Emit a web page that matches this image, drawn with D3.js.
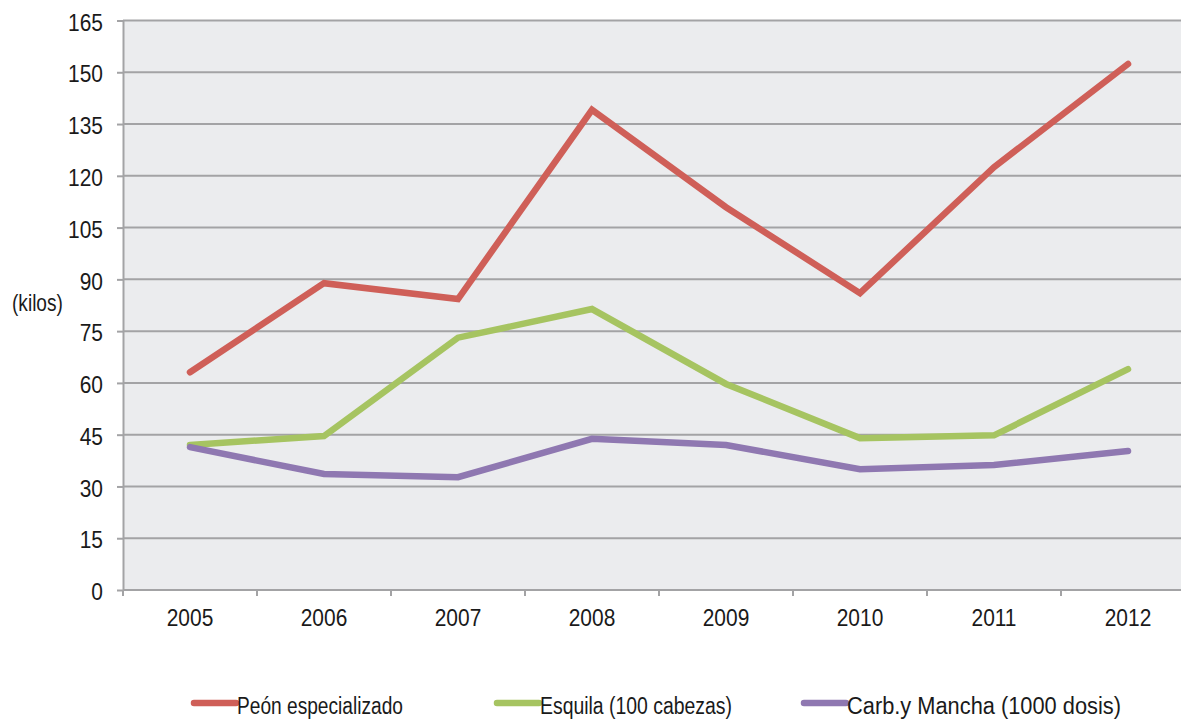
<!DOCTYPE html>
<html>
<head>
<meta charset="utf-8">
<script src="https://cdn.jsdelivr.net/npm/d3@7"></script>
<style>
  html, body { margin: 0; padding: 0; background: #ffffff; }
  svg { display: block; }
  text { font-family: "Liberation Sans", Arial, sans-serif; fill: #1a1a1a; }
</style>
</head>
<body>
<svg id="chart" width="1181" height="720"></svg>
<script>
// Years on the horizontal axis
const years = ["2005", "2006", "2007", "2008", "2009", "2010", "2011", "2012"];

// Kilos per concept
const peon    = [63.1, 88.9, 84.3, 139.1, 110.9, 86.0, 122.5, 152.4];
const esquila = [42.0, 44.6, 73.1, 81.4, 59.7, 44.0, 44.8, 64.0];
const carb    = [41.4, 33.6, 32.7, 43.8, 42.0, 35.0, 36.2, 40.3];

const yTicks = [0, 15, 30, 45, 60, 75, 90, 105, 120, 135, 150, 165];

const seriesNames  = ["Peón especializado", "Esquila (100 cabezas)", "Carb.y Mancha (1000 dosis)"];
const seriesValues = [peon, esquila, carb];
const seriesColors = ["#cf5f58", "#a6c461", "#8f78b1"];

const FONT = 23;
const TICK_SX = 0.91;   // condensed look for numbers
const TEXT_SX = 0.83;   // condensed look for words

const svg = d3.select("#chart");
const plot = { left: 123, right: 1195, top: 20.5, bottom: 590 };

const x = d3.scaleBand().domain(years).range([plot.left, plot.right]).padding(0);
const y = d3.scaleLinear().domain([0, 165]).range([plot.bottom, plot.top]);

// Plot background
svg.append("rect")
  .attr("x", plot.left).attr("y", plot.top)
  .attr("width", plot.right - plot.left).attr("height", plot.bottom - plot.top)
  .attr("fill", "#ebecee");

// Horizontal gridlines
svg.append("g")
  .selectAll("line")
  .data(yTicks.filter(d => d > 0))
  .join("line")
  .attr("x1", plot.left).attr("x2", plot.right)
  .attr("y1", d => y(d)).attr("y2", d => y(d))
  .attr("stroke", "#a3a3a5").attr("stroke-width", 2);

// Y axis
const yAxis = svg.append("g")
  .attr("transform", `translate(${plot.left},0)`)
  .call(d3.axisLeft(y).tickValues(yTicks).tickSize(6).tickPadding(16).tickSizeOuter(0));
yAxis.select(".domain").attr("stroke", "#a3a3a5").attr("stroke-width", 2);
yAxis.selectAll(".tick line").attr("stroke", "#a3a3a5").attr("stroke-width", 2);
yAxis.selectAll(".tick text")
  .attr("font-size", FONT).attr("font-family", null).attr("fill", "#1a1a1a")
  .attr("dy", "0.42em")
  .attr("transform", `scale(${TICK_SX},1)`);

// X axis with ticks on the category boundaries
const xAxis = svg.append("g")
  .attr("transform", `translate(0,${plot.bottom})`)
  .call(d3.axisBottom(x).tickSize(0).tickPadding(20));
xAxis.select(".domain").remove();
xAxis.selectAll(".tick text")
  .attr("font-size", FONT).attr("font-family", null).attr("fill", "#1a1a1a")
  .attr("transform", `scale(${TICK_SX},1)`);
svg.append("line")
  .attr("x1", plot.left).attr("x2", plot.right)
  .attr("y1", plot.bottom).attr("y2", plot.bottom)
  .attr("stroke", "#a3a3a5").attr("stroke-width", 2);
svg.append("g")
  .selectAll("line")
  .data(years)
  .join("line")
  .attr("x1", d => x(d)).attr("x2", d => x(d))
  .attr("y1", plot.bottom).attr("y2", plot.bottom + 6)
  .attr("stroke", "#a3a3a5").attr("stroke-width", 2);

// Axis title
svg.append("text")
  .attr("transform", `translate(12,311) scale(${TEXT_SX},1)`)
  .attr("font-size", FONT)
  .text("(kilos)");

// Lines
const line = d3.line()
  .x((d, i) => x(years[i]) + x.bandwidth() / 2)
  .y(d => y(d));

svg.append("g")
  .selectAll("path")
  .data(seriesValues)
  .join("path")
  .attr("d", d => line(d))
  .attr("fill", "none")
  .attr("stroke", (d, i) => seriesColors[i])
  .attr("stroke-width", 6.5)
  .attr("stroke-linecap", "round")
  .attr("stroke-linejoin", "miter");

// Legend: swatch position and label width per entry
const legendX = [194, 497, 804];
const legendW = [166, 192, 274];
const legend = svg.append("g")
  .selectAll("g")
  .data(seriesNames)
  .join("g")
  .attr("transform", (d, i) => `translate(${legendX[i]},703)`);
legend.append("line")
  .attr("x1", 0).attr("x2", 42).attr("y1", 0).attr("y2", 0)
  .attr("stroke", (d, i) => seriesColors[i])
  .attr("stroke-width", 6.5)
  .attr("stroke-linecap", "round");
legend.append("text")
  .attr("x", 43).attr("y", 10.5)
  .attr("font-size", FONT)
  .attr("textLength", (d, i) => legendW[i])
  .attr("lengthAdjust", "spacingAndGlyphs")
  .text(d => d);
</script>
</body>
</html>
